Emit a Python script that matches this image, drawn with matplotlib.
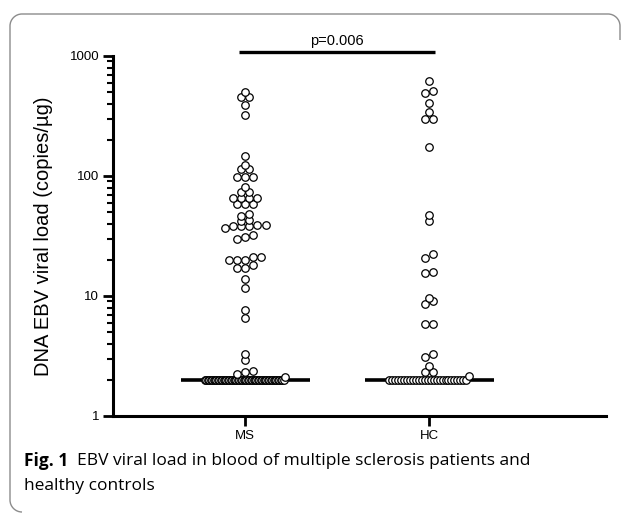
import numpy as np
import matplotlib
matplotlib.use("Agg")
import matplotlib.pyplot as plt
from matplotlib.path import Path
from matplotlib.patches import PathPatch

# ---------------- data ----------------
categories = ["MS", "HC"]
ms_values = [497, 454, 454, 388, 323,
             148, 124, 114, 114, 99, 99, 99, 81, 74, 74,
             66, 66, 66, 66, 58, 58, 58,
             48, 46, 43, 42, 37, 38, 38, 38, 39, 39, 30, 31, 32,
             20, 20, 20, 21, 21.3, 17, 17, 18.3, 13.8, 11.7, 7.6, 6.5,
             3.3, 2.95, 2.38, 2.32, 2.23] + [2] * 56 + [2.1]
hc_values = [617, 512, 493, 402, 342, 300, 300, 174, 47, 42,
             22.2, 20.7, 15.9, 15.6, 9.6, 9.0, 8.5, 5.84, 5.84,
             3.27, 3.11, 2.62, 2.33, 2.33] + [2] * 27 + [2.15]
groups = [ms_values, hc_values]
y_ticks = [1, 10, 100, 1000]
y_ticklabels = ["1", "10", "100", "1000"]
p_text = "p=0.006"
y_label = "DNA EBV viral load (copies/µg)"
caption_bold = "Fig. 1"
caption_line1 = "EBV viral load in blood of multiple sclerosis patients and"
caption_line2 = "healthy controls"

W, H = 629, 513
fig = plt.figure(figsize=(W / 100, H / 100), dpi=100)
ax = fig.add_axes([113 / W, 1 - 416 / H, (606 - 113) / W, (416 - 56) / H])
ax.set_yscale("log")
ax.set_ylim(1, 1000)
ax.set_xlim(0.283, 2.96)

tick_font = dict(family=["Liberation Sans", "DejaVu Sans"], size=9.5)

# ---------------- swarm layout (GraphPad-like rows) ----------------
fig.canvas.draw()
px_per_x = ax.bbox.width / (ax.get_xlim()[1] - ax.get_xlim()[0])
D = 8.2          # spacing between neighbours in a row, pixels
row_h = 4.0      # rows group points closer than this, pixels
band_w = 80.0    # maximal width for very large rows, pixels


def ypix(v):
    return ax.transData.transform((1, v))[1]


def layout(vals):
    vals = np.sort(np.asarray(vals, dtype=float))
    yp = np.array([ypix(v) for v in vals])
    offs = np.zeros(len(vals))
    i = 0
    while i < len(vals):
        j = i
        while j < len(vals) and abs(yp[j] - yp[i]) < row_h:
            j += 1
        n = j - i
        step = D if (n - 1) * D <= band_w else band_w / (n - 1)
        offs[i:j] = (np.arange(n) - (n - 1) / 2) * step
        i = j
    return vals, offs / px_per_x


for k, vals in enumerate(groups):
    pos = k + 1
    med = np.median(vals)
    ax.plot([pos - 0.35, pos + 0.35], [med, med], color="black", lw=2.6,
            solid_capstyle="butt", zorder=2)
    v_sorted, dx = layout(vals)
    for v, d in zip(v_sorted, dx):
        ax.plot(pos + d, v, "o", ms=5.4, mfc="white", mec="black",
                mew=0.9, zorder=3, clip_on=False)

# ---------------- axes styling ----------------
for s in ["top", "right"]:
    ax.spines[s].set_visible(False)
for s in ["left", "bottom"]:
    ax.spines[s].set_linewidth(2.2)
ax.set_xticks([1, 2])
ax.set_xticklabels(categories, **tick_font)
ax.set_yticks(y_ticks)
ax.set_yticklabels(y_ticklabels, **tick_font)
ax.tick_params(axis="both", which="major", length=7, width=2.0, direction="out", pad=3)
ax.tick_params(axis="y", which="minor", length=4, width=1.5, direction="out")
ax.yaxis.set_minor_formatter(matplotlib.ticker.NullFormatter())
ax.set_ylabel(y_label, family=["Liberation Sans", "DejaVu Sans"], size=14.5, labelpad=12)

# significance bar
ax.plot([0.967, 2.033], [1080, 1080], color="black", lw=2.4, clip_on=False,
        solid_capstyle="butt")
ax.text(1.5, 1330, p_text, ha="center", va="center",
        family=["Liberation Sans", "DejaVu Sans"], size=10.5)

# ---------------- caption ----------------
cap_font = ["Open Sans", "DejaVu Sans"]
cap_size = 12.5
t1 = fig.text(24 / W, 1 - 461 / H, caption_bold, family=cap_font, weight="bold",
              size=cap_size, ha="left", va="center")
fig.canvas.draw()
r = fig.canvas.get_renderer()
bb = t1.get_window_extent(r)
fig.text((bb.x1 + 9) / W, 1 - 461 / H, caption_line1, family=cap_font,
         size=cap_size, ha="left", va="center")
fig.text(24 / W, 1 - 486 / H, caption_line2, family=cap_font,
         size=cap_size, ha="left", va="center")

# ---------------- rounded frame ----------------
rad = 12
k = 0.5523 * rad
xl, xr, yt, yb = 10, 620, 14, 512
pts = [(xr, 40), (xr, yt + rad), (xr, yt + rad - k), (xr - rad + k, yt), (xr - rad, yt),
       (xl + rad, yt), (xl + rad - k, yt), (xl, yt + rad - k), (xl, yt + rad),
       (xl, yb - rad), (xl, yb - rad + k), (xl + rad - k, yb), (xl + rad, yb)]
codes = [Path.MOVETO, Path.LINETO, Path.CURVE4, Path.CURVE4, Path.CURVE4,
         Path.LINETO, Path.CURVE4, Path.CURVE4, Path.CURVE4,
         Path.LINETO, Path.CURVE4, Path.CURVE4, Path.CURVE4]
pts = [(x / W, 1 - y / H) for x, y in pts]
fig.patches.append(PathPatch(Path(pts, codes), transform=fig.transFigure,
                             fill=False, edgecolor="#8c8c8c", lw=1.0))

fig.savefig("out.png", dpi=100)
